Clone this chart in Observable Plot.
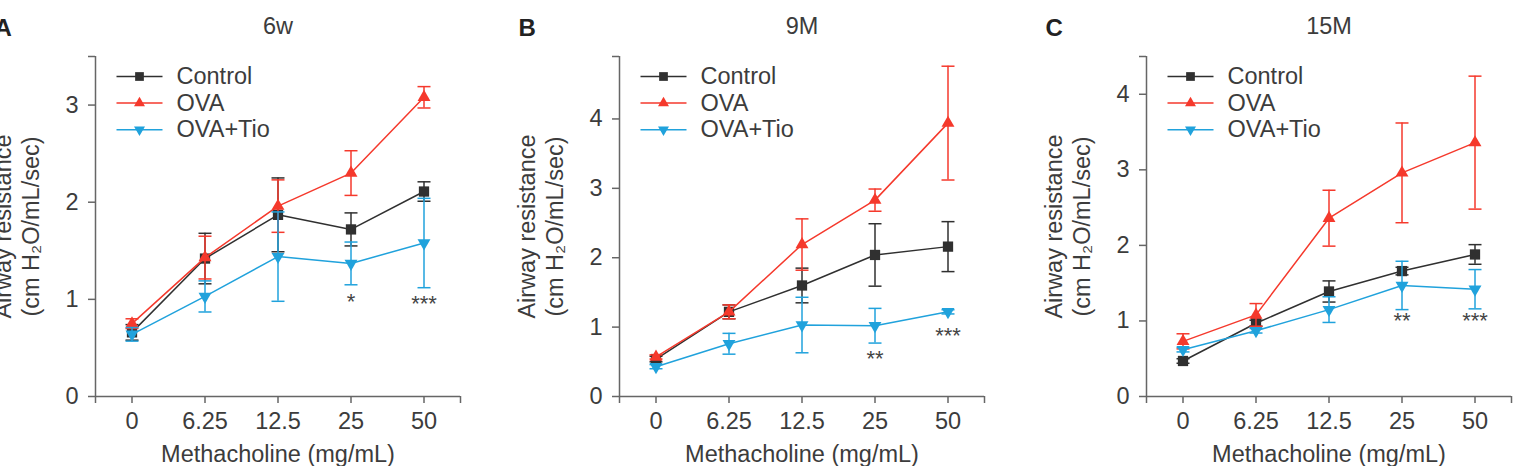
<!DOCTYPE html>
<html>
<head>
<meta charset="utf-8">
<script src="https://cdn.jsdelivr.net/npm/d3@7"></script>
<script src="https://cdn.jsdelivr.net/npm/@observablehq/plot@0.6"></script>
<style>
  body { margin: 0; background: #fff; }
  #chart { position: relative; width: 1513px; height: 466px; overflow: hidden; background: #fff; }
  #chart svg { position: absolute; top: 0; }
</style>
</head>
<body>
<div id="chart"></div>
<script>
// Methacholine doses (x categories)
const doses = ["0", "6.25", "12.5", "25", "50"];

// Groups
const seriesNames = ["Control", "OVA", "OVA+Tio"];
const seriesColors = ["#303030", "#f5392c", "#20a2dc"];

// Panels
const panelLetters = ["A", "B", "C"];
const panelTitles = ["6w", "9M", "15M"];
const panelYMax = [3.5, 4.9, 4.5];
const panelYTicks = [[0, 1, 2, 3], [0, 1, 2, 3, 4], [0, 1, 2, 3, 4]];

// Airway resistance (cm H2O/mL/sec), mean and SEM — 6 weeks
const control6w = [0.66, 1.42, 1.87, 1.72, 2.11];
const controlErr6w = [0.08, 0.26, 0.38, 0.17, 0.10];
const ova6w = [0.75, 1.43, 1.96, 2.30, 3.08];
const ovaErr6w = [0.05, 0.22, 0.27, 0.23, 0.11];
const tio6w = [0.64, 1.03, 1.44, 1.37, 1.58];
const tioErr6w = [0.07, 0.16, 0.46, 0.22, 0.46];

// 9 months
const control9M = [0.54, 1.22, 1.60, 2.04, 2.16];
const controlErr9M = [0.04, 0.10, 0.25, 0.45, 0.36];
const ova9M = [0.57, 1.22, 2.19, 2.83, 3.94];
const ovaErr9M = [0.03, 0.10, 0.37, 0.16, 0.82];
const tio9M = [0.43, 0.76, 1.03, 1.02, 1.22];
const tioErr9M = [0.03, 0.15, 0.40, 0.25, 0.03];

// 15 months
const control15M = [0.47, 0.97, 1.39, 1.66, 1.88];
const controlErr15M = [0.03, 0.04, 0.14, 0.05, 0.13];
const ova15M = [0.73, 1.08, 2.36, 2.96, 3.36];
const ovaErr15M = [0.10, 0.15, 0.37, 0.66, 0.88];
const tio15M = [0.62, 0.87, 1.15, 1.47, 1.42];
const tioErr15M = [0.03, 0.03, 0.17, 0.32, 0.26];

// Significance marks (dose index, label, y position)
const sigDose = [3, 4];
const sigLabels = [["*", "***"], ["**", "***"], ["**", "***"]];
const sigY = [[0.97, 0.95], [0.54, 0.87], [1.0, 1.0]];

const panelMeans = [[control6w, ova6w, tio6w], [control9M, ova9M, tio9M], [control15M, ova15M, tio15M]];
const panelErrs = [[controlErr6w, ovaErr6w, tioErr6w], [controlErr9M, ovaErr9M, tioErr9M], [controlErr15M, ovaErr15M, tioErr15M]];

const FONT = "'Liberation Sans', Arial, Helvetica, sans-serif";
const TEXT = "#3c3c3c";
const AXIS = "#666";
const FS = 23.5;

// horizontal error-bar cap
const capSymbol = { draw(ctx) { ctx.moveTo(-6.5, 0); ctx.lineTo(6.5, 0); } };
// legend line segment
const legendLine = { draw(ctx) { ctx.moveTo(-23, 0); ctx.lineTo(23, 0); } };

const seriesSymbol = ["square", "triangle", "triangle"];
const seriesRotate = [0, 0, 180];
const seriesR = [5.8, 4.8, 4.8];

const ML = 110, MT = 56, MB = 70, MR = 2, PW = 365;
const panelLeft = [-15, 509, 1036];

const chart = document.getElementById("chart");

panelTitles.forEach((title, k) => {
  const rows = seriesNames.flatMap((name, s) =>
    doses.map((dose, i) => ({ s, i, mean: panelMeans[k][s][i], err: panelErrs[k][s][i] })));

  const marks = [];

  // axes frame: left and bottom lines
  marks.push(Plot.ruleX([-0.5], { stroke: AXIS, strokeWidth: 1.5 }));
  marks.push(Plot.ruleY([0], { stroke: AXIS, strokeWidth: 1.5 }));
  marks.push(Plot.axisY({
    ticks: [...panelYTicks[k], panelYMax[k]],
    tickFormat: d => Number.isInteger(d) ? String(d) : "",
    tickSize: 7, tickPadding: 10, strokeWidth: 1.5, stroke: AXIS, fill: TEXT,
    fontSize: FS, label: null
  }));
  marks.push(Plot.axisX({
    ticks: [-0.5, 0, 1, 2, 3, 4, 4.5],
    tickFormat: d => Number.isInteger(d) ? doses[d] : "",
    tickSize: 7, tickPadding: 9, strokeWidth: 1.5, stroke: AXIS, fill: TEXT,
    fontSize: FS, label: null
  }));

  // series: error bars, line, markers
  seriesNames.forEach((name, s) => {
    const ds = rows.filter(d => d.s === s);
    const c = seriesColors[s];
    marks.push(Plot.ruleX(ds, { x: "i", y1: d => d.mean - d.err, y2: d => d.mean + d.err, stroke: c, strokeWidth: 1.5 }));
    marks.push(Plot.dot(ds, { x: "i", y: d => d.mean + d.err, symbol: capSymbol, fill: "none", stroke: c, strokeWidth: 1.5 }));
    marks.push(Plot.dot(ds, { x: "i", y: d => d.mean - d.err, symbol: capSymbol, fill: "none", stroke: c, strokeWidth: 1.5 }));
    marks.push(Plot.line(ds, { x: "i", y: "mean", stroke: c, strokeWidth: 1.5 }));
    marks.push(Plot.dot(ds, { x: "i", y: "mean", symbol: seriesSymbol[s], rotate: seriesRotate[s], r: seriesR[s], fill: c, stroke: "none" }));

    // legend entry
    const dy = 20 + 26.6 * s;
    marks.push(Plot.dot([name], { frameAnchor: "top-left", dx: 44, dy, symbol: legendLine, fill: "none", stroke: c, strokeWidth: 1.5 }));
    marks.push(Plot.dot([name], { frameAnchor: "top-left", dx: 44, dy, symbol: seriesSymbol[s], rotate: seriesRotate[s], r: seriesR[s] * 0.85, fill: c, stroke: "none" }));
    marks.push(Plot.text([name], { frameAnchor: "top-left", dx: 81, dy, text: d => d, textAnchor: "start", lineAnchor: "middle", fill: TEXT, fontSize: FS }));
  });

  // significance asterisks
  const sig = sigDose.map((i, j) => ({ i, label: sigLabels[k][j], y: sigY[k][j] }));
  marks.push(Plot.text(sig, { x: "i", y: "y", text: "label", fill: "#444", fontSize: 22, lineAnchor: "middle" }));

  // titles and axis labels
  marks.push(Plot.text([title], { frameAnchor: "top", dy: -30, text: d => d, fill: TEXT, fontSize: FS, lineAnchor: "middle" }));
  marks.push(Plot.text([panelLetters[k]], { frameAnchor: "top-left", dx: -101, dy: -28, text: d => d, textAnchor: "start", lineAnchor: "middle", fill: "#222", fontSize: 24, fontWeight: "bold" }));
  marks.push(Plot.text(["Methacholine (mg/mL)"], { frameAnchor: "bottom", dy: 58, text: d => d, fill: TEXT, fontSize: FS, lineAnchor: "middle" }));
  marks.push(Plot.text(["Airway resistance"], { frameAnchor: "left", dx: -92, text: d => d, rotate: -90, textAnchor: "middle", fill: TEXT, fontSize: FS, lineAnchor: "middle" }));
  marks.push(Plot.text(["(cm H\u2082O/mL/sec)"], { frameAnchor: "left", dx: -64, text: d => d, rotate: -90, textAnchor: "middle", fill: TEXT, fontSize: FS, lineAnchor: "middle" }));

  const svg = Plot.plot({
    width: ML + PW + MR,
    height: 466,
    marginLeft: ML, marginRight: MR, marginTop: MT, marginBottom: MB,
    x: { type: "linear", domain: [-0.5, 4.5] },
    y: { domain: [0, panelYMax[k]] },
    style: { fontFamily: FONT, fontSize: FS + "px", background: "transparent", overflow: "visible", color: TEXT },
    marks
  });
  svg.style.left = panelLeft[k] + "px";
  chart.appendChild(svg);
});
</script>
</body>
</html>
